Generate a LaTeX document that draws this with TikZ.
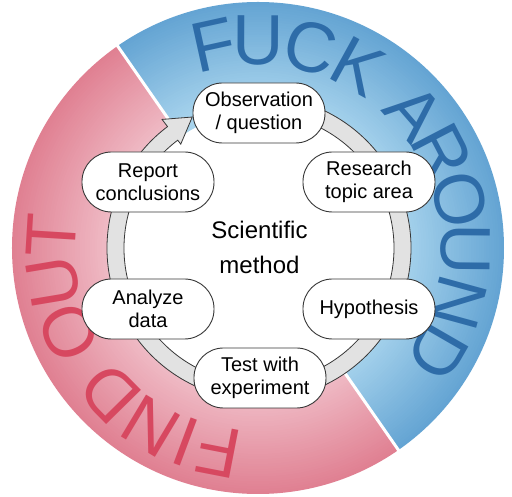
\documentclass[tikz,border=0pt]{standalone}
\usepackage{fontspec}
\setmainfont{Liberation Sans}
\definecolor{blueIn}{RGB}{168,212,237}
\definecolor{blueOut}{RGB}{100,164,211}
\definecolor{pinkIn}{RGB}{240,190,200}
\definecolor{pinkOut}{RGB}{224,128,146}
\definecolor{blueText}{RGB}{46,108,168}
\definecolor{pinkText}{RGB}{215,72,96}
\definecolor{ringGrey}{RGB}{226,226,226}
\definecolor{lineGrey}{RGB}{55,55,55}
\begin{document}
\begin{tikzpicture}[x=1pt,y=1pt,
  stepnode/.style={draw=lineGrey, line width=0.9pt, fill=white, rounded corners=29.5pt,
    minimum width=132pt, minimum height=60pt, inner sep=0pt, align=center,
    font=\fontsize{20}{23}\selectfont},
  faletter/.style={text=blueText, font=\fontsize{71}{71}\selectfont, anchor=base, inner sep=0pt},
  foletter/.style={text=pinkText, font=\fontsize{71}{71}\selectfont, anchor=base, inner sep=0pt}
]
\useasboundingbox[fill=white] (-258,-249) rectangle (254,248);

% blue half
\begin{scope}
  \clip (0,0) -- (-55.2:250) arc[start angle=-55.2, end angle=124.8, radius=250] -- cycle;
  \foreach \i [evaluate=\i as \p using 100-\i*2.5, evaluate=\i as \r using 246-\i*2.5] in {0,...,40}
    \fill[blueOut!\p!blueIn] (0,0) circle[radius=\r];
\end{scope}
% pink half
\begin{scope}
  \clip (0,0) -- (124.8:250) arc[start angle=124.8, end angle=304.8, radius=250] -- cycle;
  \foreach \i [evaluate=\i as \p using 100-\i*2.5, evaluate=\i as \r using 246-\i*2.5] in {0,...,40}
    \fill[pinkOut!\p!pinkIn] (0,0) circle[radius=\r];
\end{scope}
% divider
\draw[white, line width=3pt] (124.8:247) -- (-55.2:247);

% FUCK AROUND
\foreach \a/\l in {102.4/F, 89.8/U, 75.2/C, 61.2/K, 41/A, 27.5/R, 13.5/O, -0.5/U, -15.3/N, -30/D}
  \node[faletter, rotate=\a-90] at (\a:183) {\l};
% FIND OUT
\foreach \a/\l in {-101/F, -110.5/I, -121/N, -135.5/D, -156/O, -170.5/U, 176.5/T}
  \node[foletter, rotate=\a-90] at (\a:183) {\l};

% inner white disk
\fill[white] (1,0) circle[radius=136];

% cycle arrow
\begin{scope}[shift={(1,0)}]
  \filldraw[fill=ringGrey, draw=lineGrey, line width=0.8pt, line join=miter]
    (85:152) arc[start angle=85, end angle=-233, radius=152]
    -- (-233:161) -- (-243:147) -- (-233:130) -- (-233:135)
    arc[start angle=-233, end angle=85, radius=135] -- cycle;
\end{scope}

% steps
\node[stepnode] (obs) at (1,135) {Observation\\/ question};
\node[stepnode] (res) at (111,66) {Research\\topic area};
\node[stepnode] (hyp) at (111,-61) {Hypothesis};
\node[stepnode] (test) at (2,-130) {Test with\\experiment};
\node[stepnode] (ana) at (-110,-61) {Analyze\\data};
\node[stepnode] (rep) at (-110,66) {Report\\conclusions};
\node[font=\fontsize{24}{35}\selectfont, align=center, inner sep=0pt] (sm) at (1.5,1) {Scientific\\method};
\end{tikzpicture}
\end{document}
